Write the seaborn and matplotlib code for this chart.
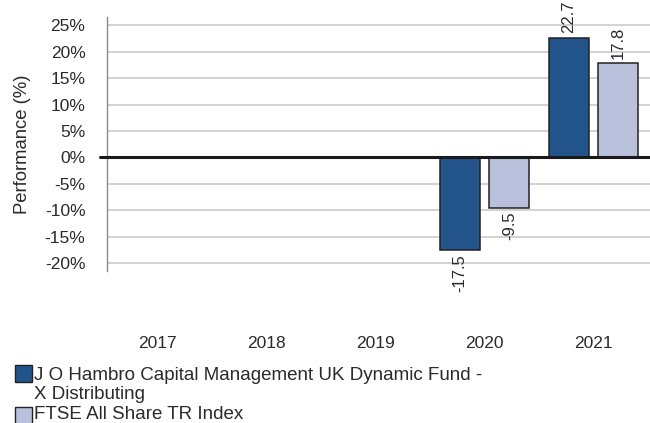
import matplotlib
matplotlib.use("Agg")
import matplotlib.pyplot as plt
from matplotlib.patches import Rectangle
import seaborn as sns
import pandas as pd
import numpy as np

years = ["2017", "2018", "2019", "2020", "2021"]
fund_name = "J O Hambro Capital Management UK Dynamic Fund -\nX Distributing"
index_name = "FTSE All Share TR Index"
fund_values = [np.nan, np.nan, np.nan, -17.5, 22.7]
index_values = [np.nan, np.nan, np.nan, -9.5, 17.8]
y_ticks = [-20, -15, -10, -5, 0, 5, 10, 15, 20, 25]

colors = {fund_name: "#22548b", index_name: "#b9c0dc"}
text_color = "#2a2a2a"

df = pd.DataFrame({
    "Year": years * 2,
    "Series": [fund_name] * len(years) + [index_name] * len(years),
    "Performance": fund_values + index_values,
})

sns.set_theme(style="white")
plt.rcParams["font.family"] = ["Liberation Sans", "DejaVu Sans"]
plt.rcParams["font.size"] = 12.5

fig = plt.figure(figsize=(6.5, 4.23), dpi=100)
ax = fig.add_axes([107 / 650, 1 - 271 / 423, 543 / 650, 254 / 423])

sns.barplot(
    data=df, x="Year", y="Performance", hue="Series", order=years,
    hue_order=[fund_name, index_name], palette=colors,
    width=0.908, gap=0.19, edgecolor="#222222", linewidth=1.1,
    saturation=1, legend=False, ax=ax, zorder=3,
)

for cont in ax.containers:
    labels = [f"{v:.1f}" if not np.isnan(v) else "" for v in cont.datavalues]
    ax.bar_label(cont, labels=labels, rotation=90, padding=3, fontsize=12, color=text_color)

ax.set_xlim(-0.465, 4.517)
ax.set_ylim(-21.5, 26.6)
ax.set_yticks(y_ticks)
ax.set_yticklabels([f"{t}%" for t in y_ticks])
ax.yaxis.grid(True, color="#cfcfcf", linewidth=1.3, zorder=0)
ax.axhline(0, color="#1a1a1a", linewidth=2.2, zorder=4, xmin=-0.012, clip_on=False)

for s in ["top", "right", "bottom"]:
    ax.spines[s].set_visible(False)
ax.spines["left"].set_color("#8a8a8a")
ax.spines["left"].set_linewidth(1.0)

ax.tick_params(axis="y", length=4.5, width=1.3, color="#cfcfcf", pad=11, labelsize=12.5, labelcolor=text_color)
ax.tick_params(axis="x", length=0, pad=47, labelsize=12.5, labelcolor=text_color)
ax.set_xlabel("")
ax.set_ylabel("Performance (%)", fontsize=13.3, color=text_color, labelpad=10)

# legend
sq_w, sq_h = 17 / 650, 17 / 423
fig.patches.append(Rectangle((15 / 650, 1 - 382 / 423), sq_w, sq_h, transform=fig.transFigure,
                             facecolor=colors[fund_name], edgecolor="#222222", linewidth=1.0))
fig.patches.append(Rectangle((15 / 650, 1 - 424 / 423), sq_w, sq_h, transform=fig.transFigure,
                             facecolor=colors[index_name], edgecolor="#222222", linewidth=1.0))
fig.text(34 / 650, 1 - 367 / 423, fund_name, ha="left", va="top", fontsize=13.5,
         color=text_color, linespacing=1.17)
fig.text(34 / 650, 1 - 414 / 423, index_name, ha="left", va="center", fontsize=13.5,
         color=text_color)

fig.savefig("out.png", dpi=100)
